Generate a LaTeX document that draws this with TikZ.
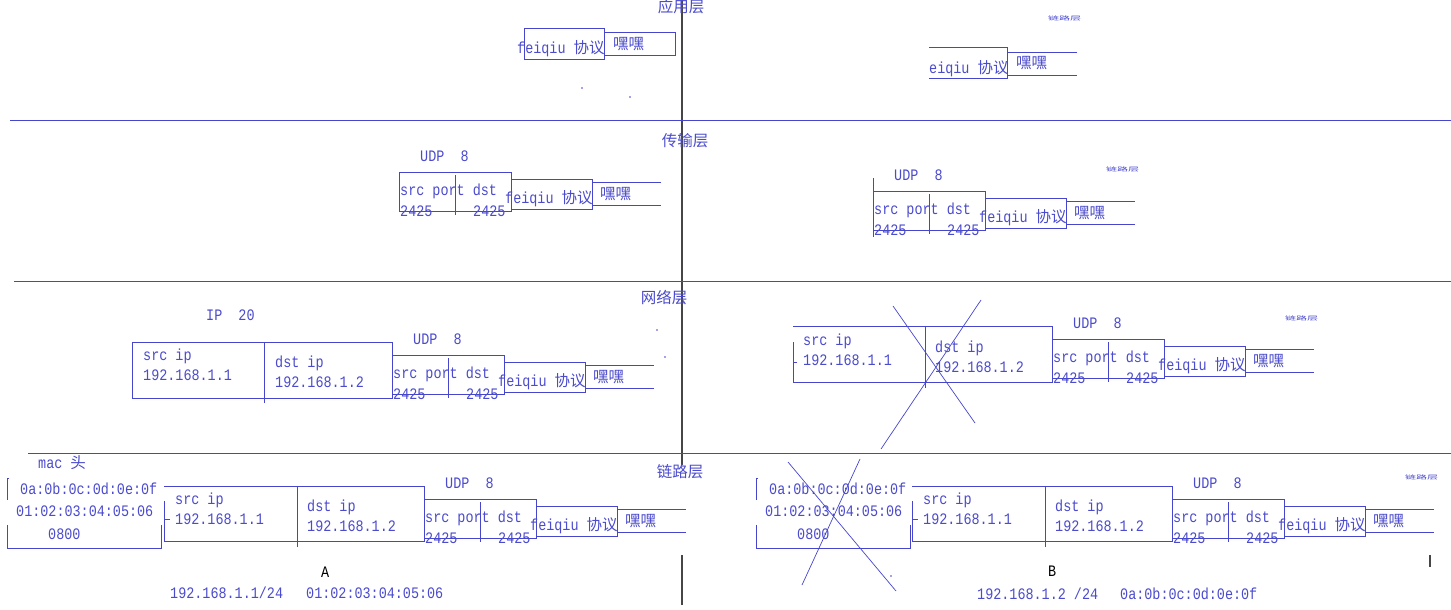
\documentclass[tikz,border=0pt]{standalone}
\usepackage{fontspec}
\setmainfont{Liberation Mono}[FakeStretch=0.84]
\newfontfamily\cjk{Noto Sans CJK SC}
\newcommand\zh[1]{{\cjk\fontsize{15.5}{15}\selectfont #1}}
\newcommand\zhtiny[1]{\scalebox{1}[0.5]{\cjk\fontsize{11}{11}\selectfont #1}}
\definecolor{txtc}{RGB}{75,75,205}
\definecolor{lnc}{RGB}{70,70,205}
\definecolor{axc}{RGB}{70,70,70}
\tikzset{
  txt/.style={anchor=west,inner sep=0pt,text=txtc,font=\fontsize{16}{16}\selectfont,text height=11pt,text depth=3pt},
  ctxt/.style={txt,anchor=center},
  tiny/.style={anchor=west,inner sep=0pt,text=txtc},
  ln/.style={draw=lnc,line width=0.8pt},
  sep/.style={draw=lnc,line width=0.7pt},
  ax/.style={draw=axc,line width=1.2pt},
  cross/.style={draw=lnc,line width=0.7pt},
}
\newcommand\udpgroup[3]{%
\begin{scope}[shift={(#2,#3)}]
\node[txt] (#1-lbl) at (21,-15) {UDP\ \ 8};
\draw[ln] (0,0) rectangle (112,39);
\draw[ln] (56,3) -- (56,43);
\node[txt] (#1-sp) at (1,19) {src port dst};
\node[txt] (#1-p1) at (1,40) {2425};
\node[txt] (#1-p2) at (74,40) {2425};
\draw[ln] (112,7) rectangle (193,37);
\node[txt] (#1-fq) at (106,27) {feiqiu \zh{协议}};
\draw[ln] (193,10) -- (262,10) (193,33) -- (262,33);
\node[txt] (#1-hh) at (201,23) {\zh{嘿嘿}};
\end{scope}}
\newcommand\macgroup[3]{%
\begin{scope}[shift={(#2,#3)}]
\draw[ln] (2,0) -- (0,0) -- (0,22);
\draw[ln] (0,47) -- (0,70) -- (154,70) -- (154,47);
\node[txt] (#1-m1) at (13,12) {0a:0b:0c:0d:0e:0f};
\node[txt] (#1-m2) at (9,34) {01:02:03:04:05:06};
\node[txt] (#1-m3) at (41,57) {0800};
\end{scope}}
\newcommand\iptexts[3]{%
\begin{scope}[shift={(#2,#3)}]
\node[txt] (#1-s) at (11,14) {src ip};
\node[txt] (#1-sa) at (11,34) {192.168.1.1};
\node[txt] (#1-d) at (143,21) {dst ip};
\node[txt] (#1-da) at (143,41) {192.168.1.2};
\end{scope}}
\begin{document}
\begin{tikzpicture}[x=1pt,y=-1pt]
\useasboundingbox[fill=white] (0,0) rectangle (1451,610);
% axis and separators
\draw[ax] (682,0) -- (682,465);
\draw[ax] (682,555) -- (682,605);
\draw[ax] (1430,555) -- (1430,567);
\draw[sep] (10,120) -- (1451,120);
\draw[sep] (14,281) -- (1451,281);
\draw[sep] (28,453) -- (1451,453);
% layer labels
\node[ctxt] (l1) at (681,9) {\zh{应用层}};
\node[ctxt] (l2) at (685,142) {\zh{传输层}};
\node[ctxt] (l3) at (664,299) {\zh{网络层}};
\node[ctxt] (l4) at (680,473) {\zh{链路层}};
% tiny marks
\node[tiny] (t1) at (1048,18) {\zhtiny{链路层}};
\node[tiny] (t2) at (1106,169) {\zhtiny{链路层}};
\node[tiny] (t3) at (1285,318) {\zhtiny{链路层}};
\node[tiny] (t4) at (1405,477) {\zhtiny{链路层}};
\fill[lnc] (582,88) circle (0.8) (630,97) circle (0.8) (657,330) circle (0.8) (665,357) circle (0.8) (891,576) circle (0.8);
% application layer
\draw[ln] (524,28) rectangle (604,59);
\draw[ln] (604,32) rectangle (675,55);
\node[txt] (afq) at (517,50) {feiqiu \zh{协议}};
\node[txt] (ahh) at (613,45) {\zh{嘿嘿}};
\draw[ln] (929,47) -- (1007,47) -- (1007,79) (929,78) -- (1007,78);
\draw[ln] (1007,52) -- (1077,52) (1007,75) -- (1077,75);
\node[txt] (bfq) at (929,70) {eiqiu \zh{协议}};
\node[txt] (bhh) at (1016,65) {\zh{嘿嘿}};
% transport layer
\udpgroup{tl}{399}{172}
\udpgroup{tr}{873}{191}
\draw[ln] (873,178) -- (873,237);
% network layer
\node[txt] (iplbl) at (206,316) {IP\ \ 20};
\draw[ln] (132,342) rectangle (392,398);
\draw[ln] (264,342) -- (264,403);
\iptexts{nl}{132}{342}
\udpgroup{nlu}{392}{355}
\draw[ln] (793,342) -- (793,382) -- (1052,382) -- (1052,326) -- (793,326);
\draw[ln] (793,362) -- (797,362);
\draw[ln] (925,326) -- (925,388);
\iptexts{nr}{792}{327}
\udpgroup{nru}{1052}{339}
\draw[cross] (893,306) -- (975,423);
\draw[cross] (981,300) -- (881,449);
% link layer
\node[txt] (mach) at (38,464) {mac \zh{头}};
\macgroup{ml}{7}{478}
\draw[ln] (164,501) -- (164,541) -- (424,541) -- (424,486) -- (164,486);
\draw[ln] (164,519) -- (170,519);
\draw[ln] (297,486) -- (297,547);
\iptexts{ll}{164}{486}
\udpgroup{llu}{424}{499}
\macgroup{mr}{756}{478}
\draw[ln] (912,501) -- (912,541) -- (1172,541) -- (1172,486) -- (912,486);
\draw[ln] (912,519) -- (918,519);
\draw[ln] (1045,486) -- (1045,547);
\iptexts{lr}{912}{486}
\udpgroup{lru}{1172}{499}
\draw[cross] (788,462) -- (896,591);
\draw[cross] (860,459) -- (802,585);
% hosts
\node[txt,text=black] (ha) at (321,573) {A};
\node[txt] (ha1) at (170,594) {192.168.1.1/24};
\node[txt] (ha2) at (306,594) {01:02:03:04:05:06};
\node[txt,text=black] (hb) at (1048,572) {B};
\node[txt] (hb1) at (977,595) {192.168.1.2 /24};
\node[txt] (hb2) at (1120,595) {0a:0b:0c:0d:0e:0f};
\end{tikzpicture}
\end{document}
